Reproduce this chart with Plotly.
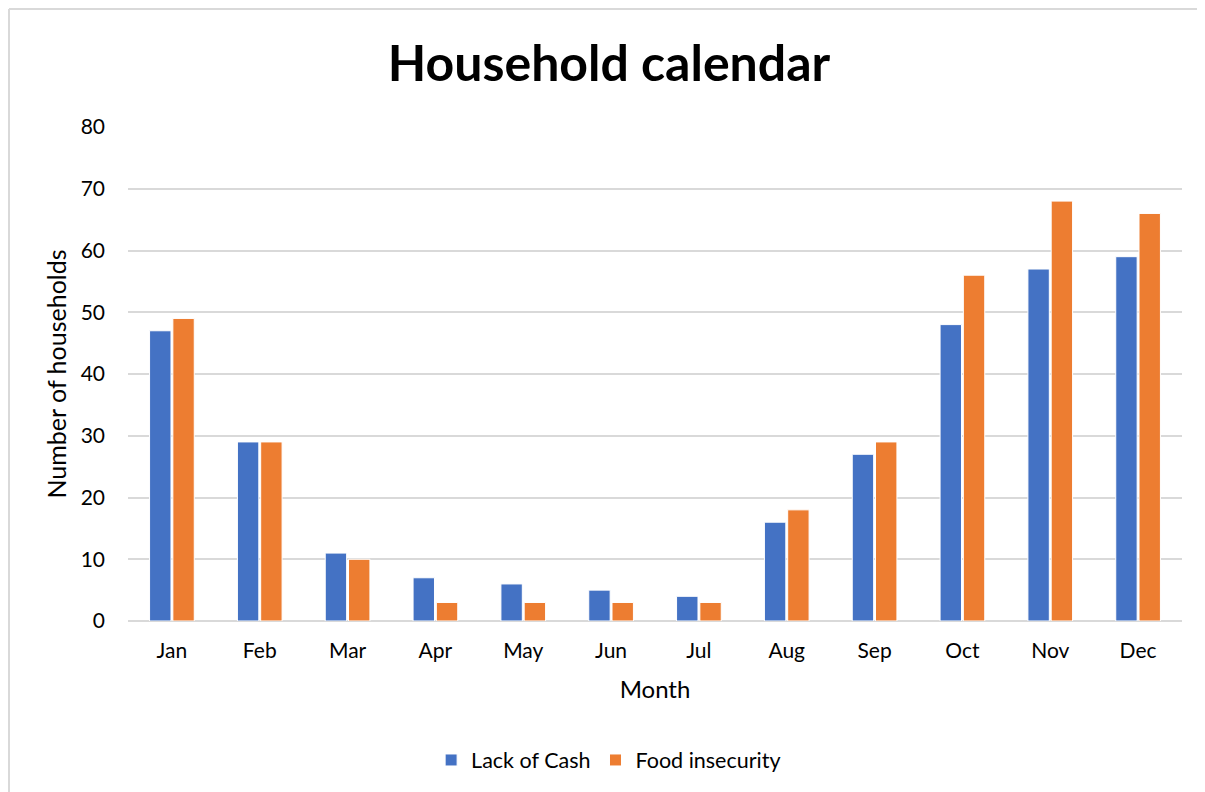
import plotly.graph_objects as go

months = ["Jan", "Feb", "Mar", "Apr", "May", "Jun", "Jul", "Aug", "Sep", "Oct", "Nov", "Dec"]
lack_of_cash = [47, 29, 11, 7, 6, 5, 4, 16, 27, 48, 57, 59]
food_insecurity = [49, 29, 10, 3, 3, 3, 3, 18, 29, 56, 68, 66]

# the page body adds an 8px margin, so the figure is placed at (8, 8)
OFF = 8
W, H = 1205 - OFF, 792 - OFF
L, R, T, B = 128 - OFF, 23, 127 - OFF, 171
pw, ph = W - L - R, H - T - B


def px_x(x):
    return (x - OFF - L) / pw


def px_y(y):
    return (H - B - (y - OFF)) / ph


fig = go.Figure()
fig.add_trace(go.Bar(x=months, y=lack_of_cash, name="Lack of Cash",
                     marker=dict(color="#4472c4", line=dict(color="white", width=1))))
fig.add_trace(go.Bar(x=months, y=food_insecurity, name="Food insecurity",
                     marker=dict(color="#ed7d31", line=dict(color="white", width=1))))

# chart frame: only its left and top edges fall inside the picture
frame = dict(type="line", xref="paper", yref="paper", layer="below",
             line=dict(color="#d9d9d9", width=2))

fig.update_layout(
    width=W, height=H,
    margin=dict(l=L, r=R, t=T, b=B),
    plot_bgcolor="white", paper_bgcolor="white",
    font=dict(family="Lato, Carlito, sans-serif", color="black", size=21),
    barmode="group", bargap=0.47, bargroupgap=0.08,
    title=dict(text="<b>Household calendar</b>", x=(609 - OFF) / W, xanchor="center",
               y=1 - (63 - OFF) / H, yanchor="middle", font=dict(size=50, color="black")),
    legend=dict(orientation="h", x=0.456, xanchor="center", y=px_y(760), yanchor="middle",
                font=dict(size=21.5), itemwidth=30, traceorder="normal"),
    xaxis=dict(title=dict(text="Month", font=dict(size=24), standoff=20),
               showgrid=False, showline=False, ticks="", ticklabelstandoff=15,
               tickfont=dict(size=21)),
    yaxis=dict(title=dict(text="Number of households", font=dict(size=25), standoff=6),
               range=[0, 80], dtick=10, showgrid=True, gridcolor="#d9d9d9", gridwidth=1.5,
               zeroline=True, zerolinecolor="#d9d9d9", zerolinewidth=1.5,
               showline=False, ticks="", ticklabelstandoff=22, tickfont=dict(size=21)),
    shapes=[
        dict(frame, x0=px_x(9), x1=px_x(9), y0=px_y(800), y1=px_y(9)),
        dict(frame, x0=px_x(9), x1=px_x(1210), y0=px_y(9), y1=px_y(9)),
    ],
)

fig.write_html("out.html")
